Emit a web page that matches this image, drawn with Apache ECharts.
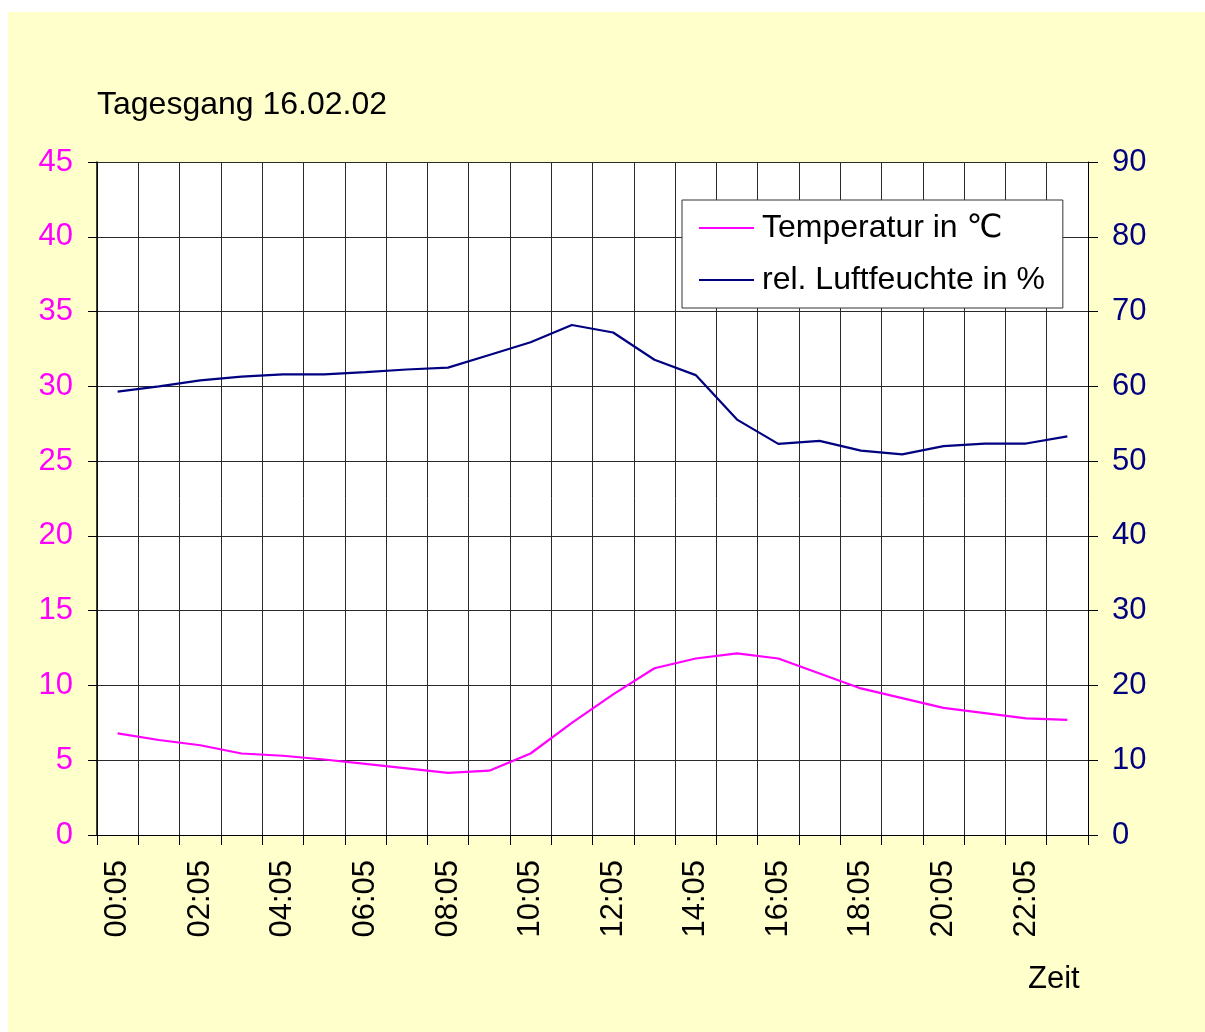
<!DOCTYPE html>
<html>
<head>
<meta charset="utf-8">
<script src="https://cdn.jsdelivr.net/npm/echarts@6/dist/echarts.min.js"></script>
<style>
  html, body { margin: 0; padding: 0; background: #fff; }
  #chart { position: absolute; left: 8px; top: 12px; width: 1197px; height: 1020px; }
</style>
</head>
<body>
<div id="chart"></div>
<script>
// Uhrzeiten (x-Achse)
var zeiten = ['00:05', '01:05', '02:05', '03:05', '04:05', '05:05', '06:05', '07:05',
  '08:05', '09:05', '10:05', '11:05', '12:05', '13:05', '14:05', '15:05',
  '16:05', '17:05', '18:05', '19:05', '20:05', '21:05', '22:05', '23:05'];
// Temperatur in °C (linke Achse)
var temperatur = [6.8, 6.35, 6.0, 5.45, 5.3, 5.05, 4.75, 4.45, 4.15, 4.3, 5.45, 7.5,
  9.4, 11.15, 11.8, 12.15, 11.8, 10.8, 9.8, 9.15, 8.5, 8.15, 7.8, 7.7];
// rel. Luftfeuchte in % (rechte Achse)
var feuchte = [59.3, 60.0, 60.8, 61.3, 61.6, 61.6, 61.9, 62.25, 62.5, 64.2, 65.9, 68.2,
  67.2, 63.55, 61.5, 55.55, 52.3, 52.7, 51.4, 50.9, 52.0, 52.35, 52.35, 53.3];

var schrift = "'Liberation Sans', Arial, 'DejaVu Sans', sans-serif";

var chart = echarts.init(document.getElementById('chart'));
chart.setOption({
  backgroundColor: '#FFFFCC',
  animation: false,
  textStyle: { fontFamily: schrift },
  title: [
    {
      text: 'Tagesgang 16.02.02',
      left: 89,
      top: 77,
      padding: 0,
      textStyle: { fontSize: 32, fontWeight: 'normal', color: '#000', fontFamily: schrift }
    },
    {
      text: 'Zeit',
      left: 1020,
      top: 952,
      padding: 0,
      textStyle: { fontSize: 31, fontWeight: 'normal', color: '#000', fontFamily: schrift }
    }
  ],
  legend: {
    orient: 'vertical',
    left: 674,
    top: 188,
    padding: [12, 18, 12, 17],
    icon: 'rect',
    itemWidth: 55,
    itemHeight: 2,
    itemGap: 20,
    backgroundColor: '#fff',
    borderColor: '#333',
    borderWidth: 1,
    textStyle: { fontSize: 32, color: '#000', fontFamily: schrift, padding: [0, 0, 0, 3] },
    data: ['Temperatur in ℃', 'rel. Luftfeuchte in %']
  },
  grid: {
    left: 89,
    right: 117,
    top: 150,
    bottom: 197,
    show: true,
    backgroundColor: '#fff',
    borderWidth: 0
  },
  xAxis: {
    type: 'category',
    data: zeiten,
    boundaryGap: true,
    axisLine: { lineStyle: { color: '#000', width: 1 } },
    axisTick: { show: true, interval: 0, length: 10, lineStyle: { color: '#000' } },
    axisLabel: {
      interval: 1,
      rotate: 90,
      margin: 25,
      fontSize: 31,
      color: '#000',
      fontFamily: schrift
    },
    splitLine: { show: true, interval: 0, lineStyle: { color: '#2a2a2a', width: 1 } }
  },
  yAxis: [
    {
      type: 'value',
      min: 0,
      max: 45,
      interval: 5,
      position: 'left',
      axisLine: { show: true, lineStyle: { color: '#000', width: 1.5 } },
      axisTick: { show: true, length: 9, lineStyle: { color: '#000' } },
      axisLabel: { fontSize: 31, color: '#FF00FF', margin: 24, fontFamily: schrift },
      splitLine: { show: true, lineStyle: { color: '#2a2a2a', width: 1 } }
    },
    {
      type: 'value',
      min: 0,
      max: 90,
      interval: 10,
      position: 'right',
      axisLine: { show: true, lineStyle: { color: '#000', width: 1 } },
      axisTick: { show: true, length: 10, lineStyle: { color: '#000' } },
      axisLabel: { fontSize: 31, color: '#000080', margin: 24, fontFamily: schrift },
      splitLine: { show: false }
    }
  ],
  series: [
    {
      name: 'Temperatur in ℃',
      type: 'line',
      yAxisIndex: 0,
      data: temperatur,
      symbol: 'none',
      itemStyle: { color: '#FF00FF' },
      lineStyle: { color: '#FF00FF', width: 2.2 }
    },
    {
      name: 'rel. Luftfeuchte in %',
      type: 'line',
      yAxisIndex: 1,
      data: feuchte,
      symbol: 'none',
      itemStyle: { color: '#000080' },
      lineStyle: { color: '#000080', width: 2.2 }
    }
  ]
});
</script>
</body>
</html>
